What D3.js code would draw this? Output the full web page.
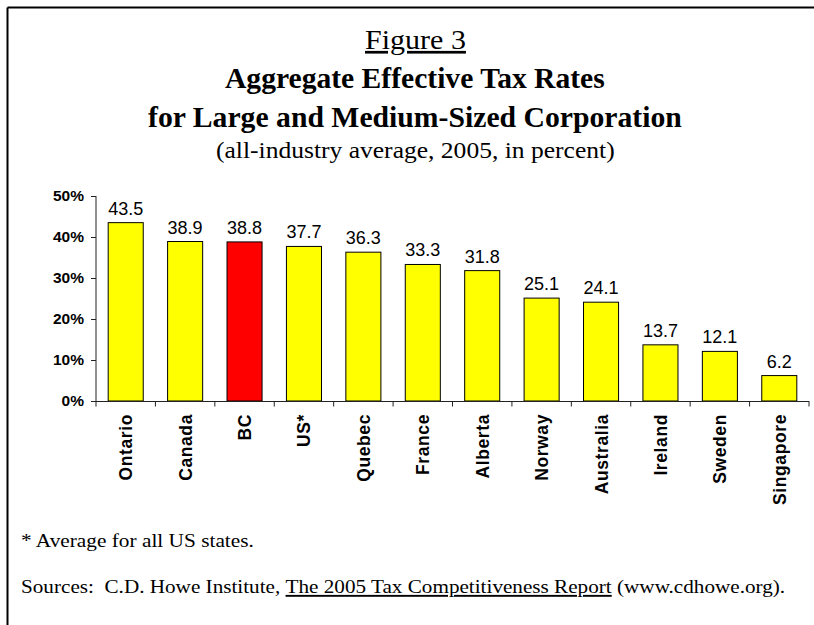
<!DOCTYPE html>
<html><head><meta charset="utf-8">
<script src="https://cdn.jsdelivr.net/npm/d3@7"></script>
<style>
body{margin:0;background:#fff;}
svg{display:block;}
</style></head>
<body><div id="chart"></div>
<script>
const categories = ["Ontario","Canada","BC","US*","Quebec","France","Alberta","Norway","Australia","Ireland","Sweden","Singapore"];
const values = [43.5,38.9,38.8,37.7,36.3,33.3,31.8,25.1,24.1,13.7,12.1,6.2];
const highlight = ["BC"];
const yTicks = [0,10,20,30,40,50];

const W = 814, H = 625;
const svg = d3.select("#chart").append("svg").attr("width", W).attr("height", H);
svg.append("rect").attr("width", W).attr("height", H).attr("fill", "#fff");

// frame (top and left)
svg.append("line").attr("x1",7.5).attr("x2",W).attr("y1",7.5).attr("y2",7.5).attr("stroke","#000").attr("stroke-width",2);
svg.append("line").attr("x1",7.5).attr("x2",7.5).attr("y1",7.5).attr("y2",H).attr("stroke","#000").attr("stroke-width",2);

const serif = "'Liberation Serif', 'Times New Roman', serif";

// place text horizontally stretched to a target left/right extent, at baseline y
function fitText(g, left, right) {
  const node = g.node();
  const w = node.getBBox().width;
  const sx = (right - left) / w;
  const y = +g.attr("data-y");
  g.attr("transform", `translate(${left},${y}) scale(${sx},1)`);
}
function line(txt, y, size, weight, left, right, deco) {
  const g = svg.append("g").attr("data-y", y);
  const t = g.append("text").attr("x",0).attr("y",0).attr("font-family",serif)
    .attr("font-size",size).attr("font-weight",weight || "normal").text(txt);
  if (deco) t.attr("text-decoration", deco);
  fitText(g, left, right);
  return g;
}
line("Figure 3", 49, 27, "normal", 365, 466, "underline");
line("Aggregate Effective Tax Rates", 88, 29, "bold", 225, 605);
line("for Large and Medium-Sized Corporation", 127, 29, "bold", 148, 682);
line("(all-industry average, 2005, in percent)", 158, 23, "normal", 216, 615);

const x = d3.scaleBand().domain(categories).range([96, 809]).paddingInner(0.41).paddingOuter(0.205);
const y = d3.scaleLinear().domain([0,50]).range([401,196]);

const sans = "'Liberation Sans', Arial, sans-serif";

// y axis
const yAxis = d3.axisLeft(y).tickValues(yTicks).tickSize(5).tickPadding(7).tickFormat(d => d + "%");
const gy = svg.append("g").attr("transform","translate(96,0)").call(yAxis);
gy.select(".domain").attr("stroke","#222").attr("d","M0,196V401");
gy.selectAll(".tick line").attr("stroke","#222");
gy.selectAll("text").attr("font-family",sans).attr("font-weight","bold").attr("font-size",15.5).attr("fill","#000");

// bars
svg.append("g").selectAll("rect").data(categories).join("rect")
  .attr("x", d => x(d)).attr("width", x.bandwidth())
  .attr("y", (d,i) => y(values[i])).attr("height", (d,i) => y(0) - y(values[i]))
  .attr("fill", d => highlight.includes(d) ? "#ff0000" : "#ffff00")
  .attr("stroke","#000").attr("stroke-width",1);

// value labels
svg.append("g").selectAll("text").data(categories).join("text")
  .attr("x", d => x(d) + x.bandwidth()/2).attr("y", (d,i) => y(values[i]) - 8)
  .attr("text-anchor","middle").attr("font-family",sans).attr("font-size",18)
  .text((d,i) => values[i].toFixed(1));

// x axis line and ticks at band boundaries
const step = x.step();
const xa = svg.append("g");
xa.append("line").attr("x1",96).attr("x2",809).attr("y1",401.5).attr("y2",401.5).attr("stroke","#222");
xa.selectAll("line.tk").data(d3.range(categories.length+1)).join("line").attr("class","tk")
  .attr("x1", i => 96 + i*step).attr("x2", i => 96 + i*step)
  .attr("y1",401).attr("y2",406.5).attr("stroke","#222");

// x labels rotated
svg.append("g").selectAll("text").data(categories).join("text")
  .attr("transform", d => `translate(${x(d)+x.bandwidth()/2+6.5},414) rotate(-90)`)
  .attr("text-anchor","end").attr("font-family",sans).attr("font-weight","bold")
  .attr("font-size",17.5).attr("letter-spacing",0.6).text(d => d);

// footnotes
line("* Average for all US states.", 547, 19, "normal", 21, 254);
const gs = svg.append("g").attr("data-y", 593);
const src = gs.append("text").attr("x",0).attr("y",0).attr("font-family",serif).attr("font-size",19).attr("xml:space","preserve");
src.append("tspan").text("Sources:  C.D. Howe Institute, ");
src.append("tspan").attr("text-decoration","underline").text("The 2005 Tax Competitiveness Report");
src.append("tspan").text(" (www.cdhowe.org).");
fitText(gs, 21, 785);
</script></body></html>
